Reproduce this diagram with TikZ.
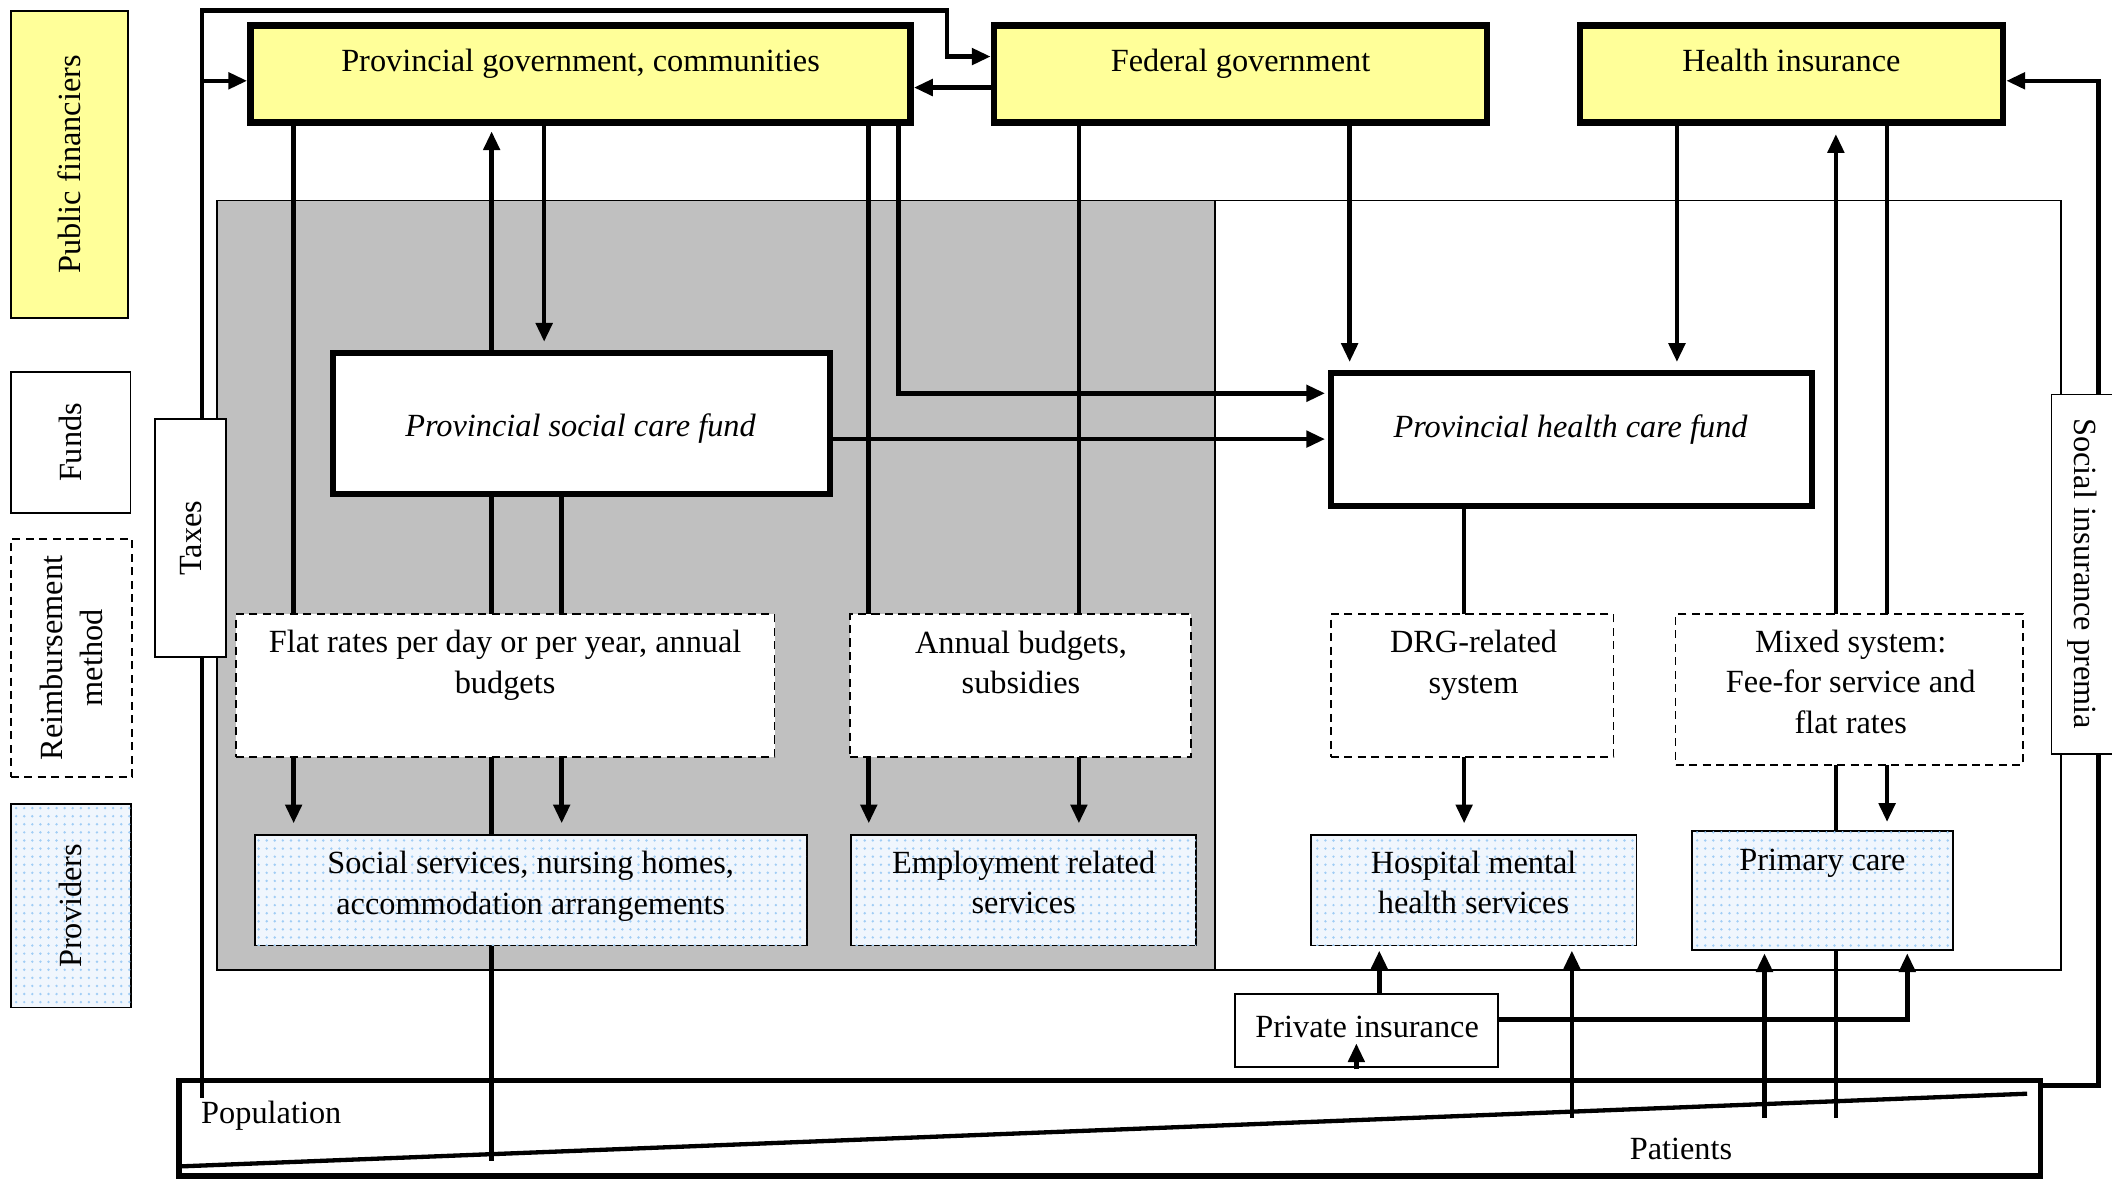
\documentclass[tikz,border=0pt]{standalone}
\usepackage{fontspec}
\setmainfont{Liberation Serif}
\usetikzlibrary{arrows.meta,fit,patterns}
\pgfdeclarelayer{back}\pgfdeclarelayer{mid}\pgfsetlayers{back,mid,main}
\definecolor{yel}{RGB}{255,255,153}
\definecolor{grayreg}{RGB}{192,192,192}
\definecolor{dotblue}{RGB}{160,205,245}
\definecolor{provfill}{RGB}{240,246,253}
\tikzset{
  thinbox/.style={draw, line width=0.6pt, fill=white, inner sep=0pt},
  lyel/.style={draw, line width=0.6pt, fill=yel, inner sep=0pt},
  ybox/.style={draw, line width=2.5pt, fill=yel, inner sep=0pt},
  fundbox/.style={draw, line width=2.2pt, fill=white, inner sep=0pt},
  dbox/.style={draw, dash pattern=on 3pt off 2pt, line width=0.6pt, fill=white, inner sep=0pt},
  pbox/.style={draw, line width=0.7pt, inner sep=0pt, fill=provfill, postaction={pattern=dots, pattern color=dotblue}},
  region/.style={draw, line width=0.6pt, inner sep=0pt},
  lbl/.style={font=\fontsize{12}{15}\selectfont, align=center, inner sep=0pt},
  sl/.style={lbl, text height=8.5pt, text depth=2.5pt},
  conn/.style={line width=1.7pt},
  arr/.style={conn, -{Triangle[length=7pt,width=6pt]}},
}
\begin{document}
\begin{tikzpicture}[x=0.5pt,y=-0.5pt]
\useasboundingbox (0,0) rectangle (1568,876);
% helper coordinates
\foreach \v in {150,218,365,404,417,645,667,703,801,1002,1007,1024,1087,1167,1245,1310,1363,1401,1416,1558}{\coordinate (X\v) at (\v,0);}
\foreach \v in {8,42,60,65,292,326,757,806,808,815,830,862}{\coordinate (Y\v) at (0,\v);}
% background regions
\begin{pgfonlayer}{back}
\node[region, fill=grayreg, fit={(161,149)(902,720)}] (greg) {};
\node[region, fill=white, fit={(902,149)(1530,720)}] (wreg) {};
\node[draw, line width=2pt, inner sep=0pt, fit={(133,802)(1515,873)}] (pop) {};
\coordinate (dA) at (133,866);
\coordinate (dB) at (1505,812);
\draw[line width=1.6pt] (dA) -- (dB);
\end{pgfonlayer}
% legend
\node[lyel, fit={(8,8)(95,236)}] (lpf) {};
\node[lbl, rotate=90] (lpft) at (lpf.center) {Public financiers};
\node[thinbox, fit={(8,276)(97,381)}] (lfu) {};
\node[lbl, rotate=90] (lfut) at (lfu.center) {Funds};
\node[dbox, fit={(8,400)(98,577)}] (lrm) {};
\node[lbl, rotate=90] (lrmt) at (lrm.center) {Reimbursement\\method};
\node[pbox, fit={(8,597)(97,748)}] (lpr) {};
\node[lbl, rotate=90] (lprt) at (lpr.center) {Providers};
% taxes and premia
\node[thinbox, fit={(115,311)(168,488)}] (tax) {};
\node[lbl, rotate=90] (taxt) at (tax.center) {Taxes};
% public financiers
\node[ybox, fit={(186,19)(676,91)}] (pg) {};
\node[sl] (pgt) at (431,47) {Provincial government, communities};
\node[ybox, fit={(738,19)(1104,91)}] (fg) {};
\node[sl] (fgt) at (921,47) {Federal government};
\node[ybox, fit={(1173,19)(1487,91)}] (hi) {};
\node[sl] (hit) at (1330,47) {Health insurance};
% funds
\node[fundbox, fit={(247,262)(616,367)}] (scf) {};
\node[sl, font=\fontsize{12}{15}\selectfont\itshape] (scft) at (431,318) {Provincial social care fund};
\node[fundbox, fit={(988,277)(1345,376)}] (hcf) {};
\node[sl, font=\fontsize{12}{15}\selectfont\itshape] (hcft) at (1166,319) {Provincial health care fund};
% reimbursement methods
\node[dbox, fit={(175,456)(575,562)}] (fr) {};
\node[lbl] (frt) at (375,494) {Flat rates per day or per year, annual\\budgets};
\node[dbox, fit={(631,456)(884,562)}] (ab) {};
\node[lbl] (abt) at (758,492) {Annual budgets,\\subsidies};
\node[dbox, fit={(988,456)(1198,562)}] (drg) {};
\node[lbl] (drgt) at (1094,494) {DRG-related\\system};
\node[dbox, fit={(1244,456)(1502,568)}] (mx) {};
\node[lbl] (mxt) at (1374,506) {Mixed system:\\Fee-for service and\\flat rates};
% providers
\node[pbox, fit={(189,620)(599,702)}] (ss) {};
\node[lbl] (sst) at (394,658) {Social services, nursing homes,\\accommodation arrangements};
\node[pbox, fit={(632,620)(888,702)}] (ers) {};
\node[lbl] (erst) at (760,655) {Employment related\\services};
\node[pbox, fit={(973,620)(1215,702)}] (hm) {};
\node[lbl] (hmt) at (1094,655) {Hospital mental\\health services};
\node[pbox, fit={(1256,617)(1450,705)}] (pc) {};
\node[sl] (pct) at (1353,640) {Primary care};
% private insurance, population
\node[thinbox, fit={(917,738)(1112,792)}] (pi) {};
\node[sl] (pit) at (1015,764) {Private insurance};
\node[sl, anchor=west] (popt) at (149,828) {Population};
\node[sl] (patt) at (1248,855) {Patients};
\node[thinbox, fit={(1523,293)(1572,560)}] (sip) {};
\node[lbl, rotate=-90] (sipt) at (1546,426) {Social insurance premia};
% connectors
\begin{pgfonlayer}{mid}
\coordinate (popL) at (150,815);
\coordinate (tl) at (150,8);
\coordinate (tr) at (703,8);
\draw[arr] (popL) -- (tl) -- (tr) |- (fg.west |- Y42);
\draw[arr] (X150 |- Y60) -- (pg.west |- Y60);
\draw[arr] (fg.west |- Y65) -- (pg.east |- Y65);
\draw[arr, shorten >=4pt] (pg.south -| X218) -- (ss.north -| X218);
\draw[arr, shorten >=2pt] (scf.north -| X365) -- (pg.south -| X365);
\coordinate (pb365) at (365,862);
\draw[conn] (scf.south -| X365) -- (pb365);
\draw[arr, shorten >=3pt] (pg.south -| X404) -- (scf.north -| X404);
\draw[arr, shorten >=4pt] (pg.south -| X645) -- (ers.north -| X645);
\draw[arr, shorten >=1pt] (pg.south -| X667) |- (hcf.west |- Y292);
\draw[arr, shorten >=1pt] (scf.east |- Y326) -- (hcf.west |- Y326);
\draw[arr, shorten >=4pt] (scf.south -| X417) -- (ss.north -| X417);
\draw[arr, shorten >=4pt] (fg.south -| X801) -- (ers.north -| X801);
\draw[arr, shorten >=3pt] (fg.south -| X1002) -- (hcf.north -| X1002);
\draw[arr, shorten >=3pt] (hi.south -| X1245) -- (hcf.north -| X1245);
\coordinate (p1363) at (1363,830);
\draw[arr, shorten >=3pt] (p1363) -- (hi.south -| X1363);
\draw[arr, shorten >=3pt] (hi.south -| X1401) -- (pc.north -| X1401);
\draw[arr, shorten >=4pt] (hcf.south -| X1087) -- (hm.north -| X1087);
\draw[arr, shorten >=1.5pt] (pi.north -| X1024) -- (hm.south -| X1024);
\draw[arr, shorten >=1pt] (pi.east |- Y757) -| (pc.south -| X1416);
\coordinate (p1167) at (1167,830);
\coordinate (p1310) at (1310,830);
\draw[arr, shorten >=1.5pt] (p1167) -- (hm.south -| X1167);
\draw[arr, shorten >=1pt] (p1310) -- (pc.south -| X1310);
\coordinate (cr) at (1558,60);
\draw[arr] (pop.east |- Y806) -| (cr) -- (hi.east |- Y60);
\end{pgfonlayer}
\draw[arr, shorten <=3pt, shorten >=-9pt] (pop.north -| X1007) -- (pi.south -| X1007);
\end{tikzpicture}
\end{document}
